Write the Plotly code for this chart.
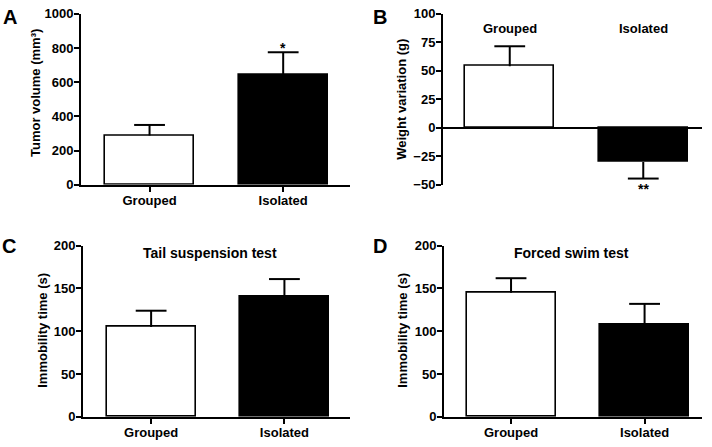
import plotly.graph_objects as go

# ---- data ----
categories = ["Grouped", "Isolated"]
tumor_mean = [288, 645]
tumor_sem = [62, 130]
weight_mean = [54, -30]
weight_sem = [17.5, 14.5]
tst_mean = [105, 140]
tst_sem = [19, 21]
fst_mean = [145, 108]
fst_sem = [17, 24]

W, H = 712, 447
FONT = "Liberation Sans, Arial, Helvetica, sans-serif"
BAR_COLORS = ["white", "black"]


def px(x):
    return x / W


def py(y):
    return 1 - y / H


fig = go.Figure()

panels = [
    dict(mean=tumor_mean, sem=tumor_sem, ax="", xd=[81, 350], yd=[184, 7],
         xr=[-0.513, 1.50], yr=[0, 1000], dt=200, xlabels=True),
    dict(mean=weight_mean, sem=weight_sem, ax="2", xd=[443, 702], yd=[184, 7],
         xr=[-0.50, 1.44], yr=[-50, 100], dt=25, xlabels=False),
    dict(mean=tst_mean, sem=tst_sem, ax="3", xd=[83, 350], yd=[424, 247],
         xr=[-0.511, 1.492], yr=[0, 200], dt=50, xlabels=True),
    dict(mean=fst_mean, sem=fst_sem, ax="4", xd=[444, 702], yd=[424, 247],
         xr=[-0.502, 1.43], yr=[0, 200], dt=50, xlabels=True),
]

layout_axes = {}
for p in panels:
    up = [s if m >= 0 else 0 for m, s in zip(p["mean"], p["sem"])]
    down = [s if m < 0 else 0 for m, s in zip(p["mean"], p["sem"])]
    fig.add_trace(go.Bar(
        x=categories, y=p["mean"], width=0.667,
        marker=dict(color=BAR_COLORS, line=dict(color="black", width=1.6)),
        error_y=dict(type="data", symmetric=False, array=up, arrayminus=down,
                     color="black", thickness=2, width=0),
        xaxis="x" + p["ax"], yaxis="y" + p["ax"], showlegend=False,
        hoverinfo="skip",
    ))
    # caps only at the outer end of each whisker
    cap_y = [m + s if m >= 0 else m - s for m, s in zip(p["mean"], p["sem"])]
    fig.add_trace(go.Scatter(
        x=categories, y=cap_y, mode="markers",
        marker=dict(symbol="line-ew", size=22, color="black",
                    line=dict(color="black", width=2)),
        xaxis="x" + p["ax"], yaxis="y" + p["ax"], showlegend=False,
        hoverinfo="skip", cliponaxis=False,
    ))
    xa = dict(
        domain=[px(p["xd"][0]), px(p["xd"][1])],
        anchor="y" + p["ax"], range=p["xr"], type="category",
        showgrid=False, zeroline=False, fixedrange=True,
        tickfont=dict(family=FONT, size=13, color="black", weight="bold"),
    )
    if p["xlabels"]:
        xa.update(showline=True, linecolor="black", linewidth=2,
                  ticks="outside", ticklen=5, tickwidth=2, tickcolor="black",
                  showticklabels=True, ticklabelstandoff=-2)
    else:
        xa.update(showline=False, ticks="", showticklabels=False)
    ya = dict(
        domain=[py(p["yd"][0]), py(p["yd"][1])],
        anchor="x" + p["ax"], range=p["yr"], dtick=p["dt"], tick0=0,
        showgrid=False, showline=True, linecolor="black", linewidth=2,
        ticks="outside", ticklen=5, tickwidth=2, tickcolor="black",
        tickfont=dict(family=FONT, size=13, color="black", weight="bold"),
        ticklabelstandoff=-2,
        zeroline=(p["ax"] == "2"), zerolinecolor="black", zerolinewidth=2,
        fixedrange=True,
    )
    layout_axes["xaxis" + p["ax"]] = xa
    layout_axes["yaxis" + p["ax"]] = ya

annotations = []
# panel letters
for letter, x, y in [("A", 10, 10), ("B", 380, 10), ("C", 9, 247), ("D", 380, 247)]:
    annotations.append(dict(text=letter, x=px(x), y=py(y), xref="paper", yref="paper",
                            xanchor="center", yanchor="middle", showarrow=False,
                            font=dict(family=FONT, size=20, color="black", weight="bold")))
# y-axis titles
for text, x, y in [("Tumor volume (mm³)", 35, 89), ("Weight variation (g)", 402, 96),
                   ("Immobility time (s)", 43, 335), ("Immobility time (s)", 403, 335)]:
    annotations.append(dict(text=text, x=px(x), y=py(y), xref="paper", yref="paper",
                            xanchor="center", yanchor="middle", textangle=-90, showarrow=False,
                            font=dict(family=FONT, size=13, color="black", weight="bold")))
# panel titles
for text, x, y in [("Tail suspension test", 210, 255), ("Forced swim test", 571, 255)]:
    annotations.append(dict(text=text, x=px(x), y=py(y), xref="paper", yref="paper",
                            xanchor="center", yanchor="middle", showarrow=False,
                            font=dict(family=FONT, size=14, color="black", weight="bold")))
# category labels on top of panel B
for cat in categories:
    annotations.append(dict(text=cat, x=cat, y=87, xref="x2", yref="y2",
                            xanchor="center", yanchor="middle", showarrow=False,
                            font=dict(family=FONT, size=13, color="black", weight="bold")))
# significance marks
annotations.append(dict(text="*", x=categories[1], y=tumor_mean[1] + tumor_sem[1],
                        xref="x", yref="y", xanchor="center", yanchor="bottom",
                        yshift=-6, showarrow=False,
                        font=dict(family=FONT, size=14, color="black", weight="bold")))
annotations.append(dict(text="**", x=categories[1], y=weight_mean[1] - weight_sem[1],
                        xref="x2", yref="y2", xanchor="center", yanchor="top",
                        yshift=0, showarrow=False,
                        font=dict(family=FONT, size=14, color="black", weight="bold")))

fig.update_layout(
    width=W, height=H, margin=dict(l=0, r=0, t=0, b=0),
    paper_bgcolor="white", plot_bgcolor="white",
    annotations=annotations, bargap=0,
    **layout_axes,
)

fig.write_html(
    "out.html", include_plotlyjs=True, config={"displayModeBar": False},
    post_script="document.body.style.margin='0';document.body.style.padding='0';"
                "document.body.style.overflow='hidden';",
)
